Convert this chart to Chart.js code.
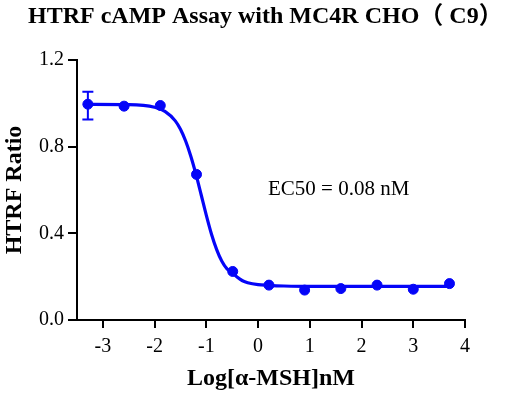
<!DOCTYPE html>
<html>
<head>
<meta charset="utf-8">
<script src="https://cdn.jsdelivr.net/npm/chart.js@4"></script>
<style>
  html, body { margin: 0; padding: 0; background: #fff; }
  #wrap { width: 517px; height: 393px; }
</style>
</head>
<body>
<div id="wrap"><canvas id="c" width="517" height="393"></canvas></div>
<script>
// measured points: log10 concentration (nM) vs HTRF ratio
const logConc = [-3.29, -2.59, -1.89, -1.19, -0.49, 0.21, 0.9, 1.6, 2.3, 3.0, 3.7];
const ratio = [0.996, 0.987, 0.99, 0.672, 0.224, 0.161, 0.138, 0.145, 0.161, 0.142, 0.168];
const errLow = [0.925, null, null, null, null, null, null, null, null, null, null];
const errHigh = [1.054, null, null, null, null, null, null, null, null, null, null];

// fitted curve
const fitX = [-3.3, -2.5, -2.0, -1.8, -1.6, -1.5, -1.4, -1.3, -1.2, -1.1, -1.0, -0.9, -0.8, -0.7, -0.6, -0.5, -0.4, -0.3, -0.2, 0.0, 0.2, 0.5, 1.0, 2.0, 3.0, 3.7];
const fitY = [0.995, 0.994, 0.982, 0.963, 0.919, 0.88, 0.826, 0.756, 0.672, 0.578, 0.483, 0.396, 0.325, 0.271, 0.236, 0.22, 0.197, 0.181, 0.172, 0.163, 0.16, 0.157, 0.155, 0.155, 0.155, 0.155];

const xTicks = [-3, -2, -1, 0, 1, 2, 3, 4];
const yTicks = [0, 0.4, 0.8, 1.2];

const blue = '#0505f8';
const serif = '"Liberation Serif", "Times New Roman", "Noto Sans CJK SC", serif';

const annotations = {
    id: 'annotations',
    afterDatasetsDraw(chart) {
        const ctx = chart.ctx;
        const xs = chart.scales.x, ys = chart.scales.y;
        ctx.save();
        // error bars
        ctx.strokeStyle = blue;
        ctx.lineWidth = 2;
        logConc.forEach((x, i) => {
            if (errLow[i] == null) return;
            const px = xs.getPixelForValue(x);
            const top = ys.getPixelForValue(errHigh[i]);
            const bot = ys.getPixelForValue(errLow[i]);
            ctx.beginPath();
            ctx.moveTo(px, top); ctx.lineTo(px, bot);
            ctx.moveTo(px - 5.5, top); ctx.lineTo(px + 5.5, top);
            ctx.moveTo(px - 5.5, bot); ctx.lineTo(px + 5.5, bot);
            ctx.stroke();
        });
        ctx.fillStyle = '#000';
        ctx.textBaseline = 'middle';
        ctx.font = '21px ' + serif;
        ctx.fillText('EC50 = 0.08 nM', 268, 189);
        // title
        ctx.font = 'bold 24px ' + serif;
        ctx.textAlign = 'left';
        ctx.fillText('HTRF cAMP Assay with MC4R CHO（ C9）', 28, 17);
        ctx.restore();
    }
};

const ctx = document.getElementById('c').getContext('2d');
const chart = new Chart(ctx, {
    type: 'scatter',
    data: {
        datasets: [
            {
                label: 'fit',
                type: 'line',
                data: fitX.map((x, i) => ({ x: x, y: fitY[i] })),
                borderColor: blue,
                borderWidth: 3.2,
                pointRadius: 0,
                cubicInterpolationMode: 'monotone',
                fill: false
            },
            {
                label: 'data',
                data: logConc.map((x, i) => ({ x: x, y: ratio[i] })),
                backgroundColor: blue,
                borderColor: blue,
                pointRadius: 5,
                showLine: false
            }
        ]
    },
    options: {
        responsive: false,
        animation: false,
        layout: { padding: { left: 0, right: 52, top: 60, bottom: 0 } },
        scales: {
            x: {
                type: 'linear',
                min: -3.5,
                max: 4,
                afterBuildTicks: scale => { scale.ticks = xTicks.map(v => ({ value: v })); },
                afterFit: scale => { scale.height = 73; },
                border: { color: '#000', width: 2 },
                grid: { drawOnChartArea: false, drawTicks: true, tickLength: 8, color: '#000', lineWidth: 2 },
                ticks: { color: '#000', font: { family: serif, size: 20 }, padding: 7, maxRotation: 0 },
                title: { display: true, text: 'Log[α-MSH]nM', color: '#000', font: { family: serif, size: 24, weight: 'bold' }, padding: { top: 5, bottom: 0 } }
            },
            y: {
                type: 'linear',
                min: 0,
                max: 1.2,
                afterBuildTicks: scale => { scale.ticks = yTicks.map(v => ({ value: v })); },
                afterFit: scale => { scale.width = 77; },
                border: { color: '#000', width: 2 },
                grid: { drawOnChartArea: false, drawTicks: true, tickLength: 9, color: '#000', lineWidth: 2 },
                ticks: { color: '#000', font: { family: serif, size: 20 }, padding: 4, callback: v => v.toFixed(1) },
                title: { display: true, text: 'HTRF Ratio', color: '#000', font: { family: serif, size: 24, weight: 'bold' }, padding: { top: 0, bottom: 4 } }
            }
        },
        plugins: {
            legend: { display: false },
            tooltip: { enabled: false },
            title: { display: false }
        }
    },
    plugins: [annotations]
});
</script>
</body>
</html>
